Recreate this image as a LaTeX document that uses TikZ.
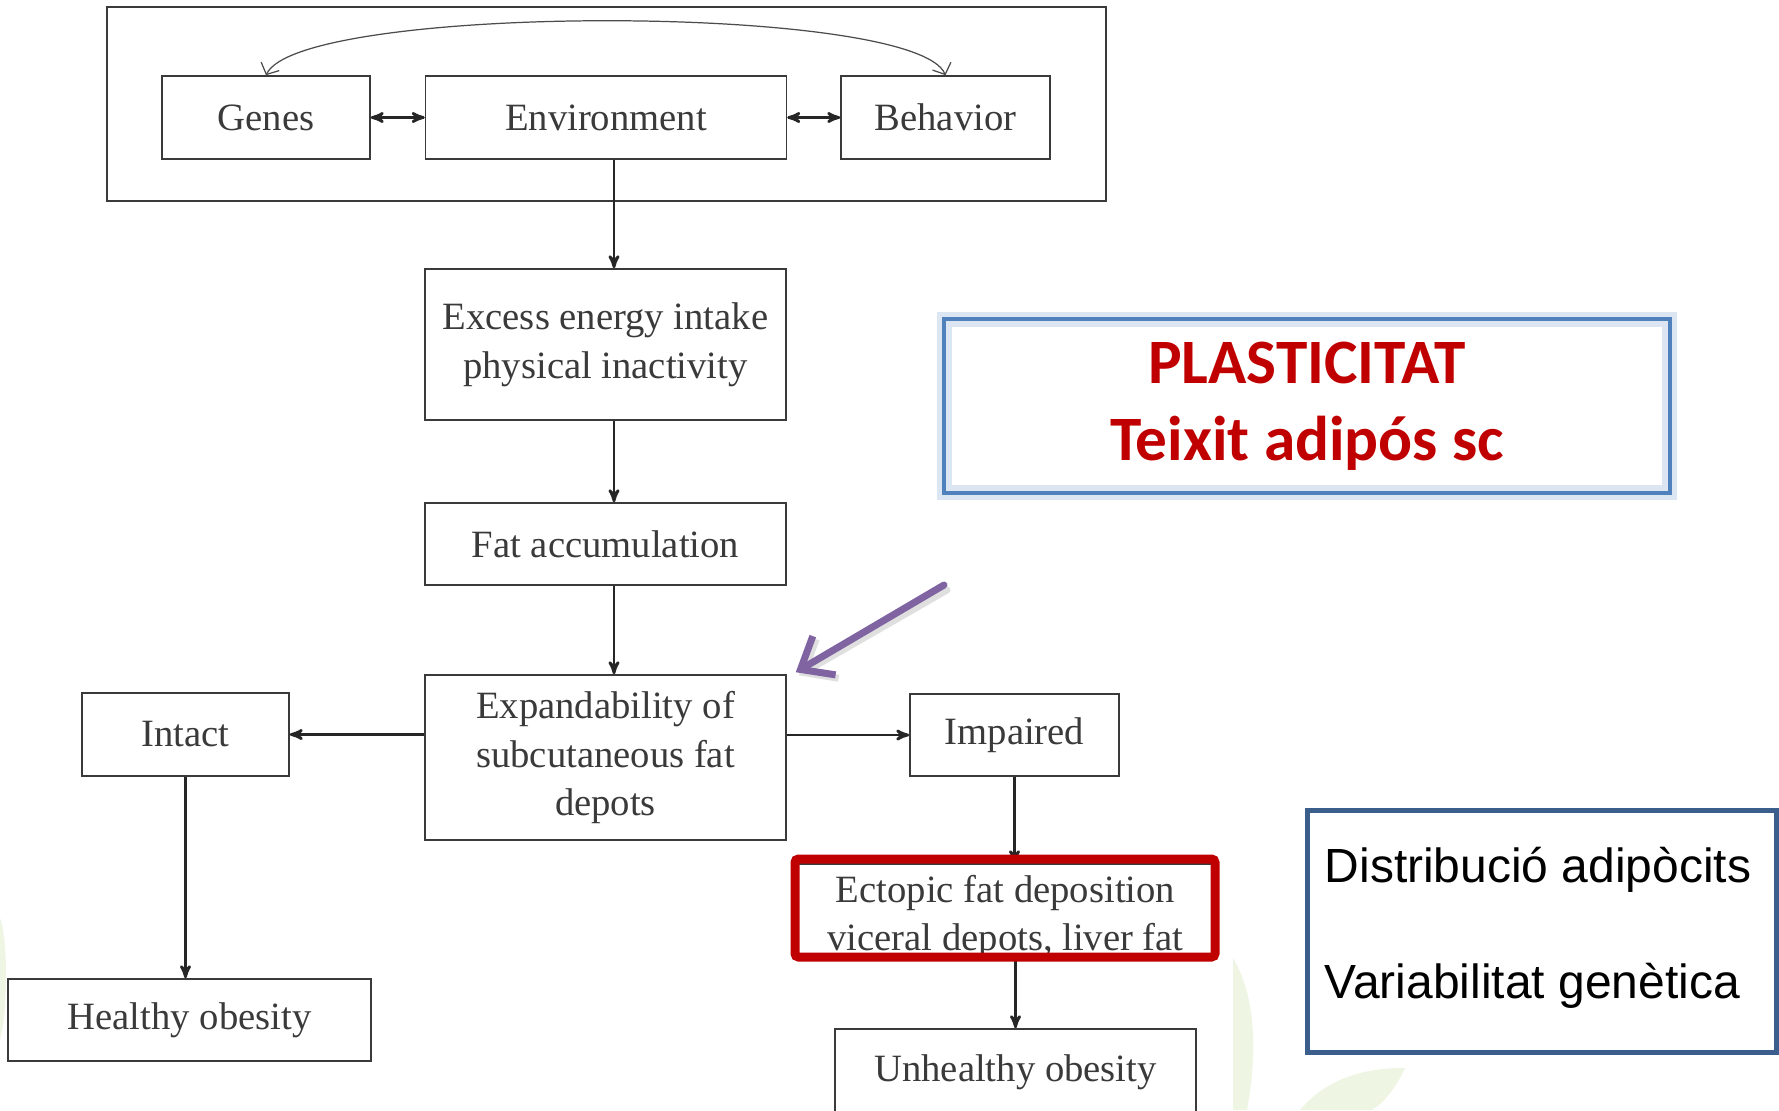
\documentclass[tikz,border=0pt]{standalone}
\usepackage{fontspec}
\setmainfont{Liberation Serif}
\newfontfamily\calibri{Carlito}
\newfontfamily\arial{Liberation Sans}
\usetikzlibrary{arrows,arrows.meta}

\definecolor{boxgray}{HTML}{3A3A3A}
\definecolor{darkred}{HTML}{C00000}
\definecolor{plasblue}{HTML}{4F81BD}
\definecolor{distblue}{HTML}{3B5E8C}
\definecolor{arrowpurple}{HTML}{8064A2}
\definecolor{leafgreen}{HTML}{EEF5E2}

\begin{document}
\begin{tikzpicture}[x=0.02cm,y=-0.02cm,
  box/.style={draw=boxgray, line width=0.9pt, text=boxgray, align=center, inner sep=0pt,
    font=\fontsize{22}{27.8}\selectfont},
  link/.style={black!85, line width=1.5pt, ->, >=stealth'},
  twoway/.style={black!85, line width=1.5pt, <->, >=stealth'},
  hlframe/.style={draw=darkred, line width=0.18cm, rounded corners=2pt},
  pointer/.style={line width=0.14cm, line cap=round, line join=round,
    -{Straight Barb[length=0.55cm, width=0.9cm]}}]
\useasboundingbox (0,0) rectangle (1779,1110);
\clip (0,0) rectangle (1779,1110);
\fill[white] (0,0) rectangle (1779,1110);
\fill[leafgreen] (1233,958) .. controls (1258,1000) and (1256,1060) .. (1247,1110) -- (1233,1110) -- cycle;
\fill[leafgreen] (1300,1110) .. controls (1330,1075) and (1370,1068) .. (1405,1068)
  .. controls (1395,1090) and (1382,1104) .. (1372,1110) -- cycle;
\fill[leafgreen] (0,918) .. controls (8,940) and (8,1010) .. (0,1040) -- cycle;

\draw[boxgray, line width=0.9pt] (107,7) rectangle (1106,201);
\node[box, minimum width=4.16cm, minimum height=1.66cm] (Genes) at (266,117.5) {Genes};
\node[box, minimum width=7.22cm, minimum height=1.66cm] (Environment) at (606,117.5) {Environment};
\node[box, minimum width=4.18cm, minimum height=1.66cm] (Behavior) at (945.5,117.5) {Behavior};
\node[box, minimum width=7.22cm, minimum height=3.02cm] (Excess) at (605.5,344.5) {Excess energy intake\\physical inactivity};
\node[box, minimum width=7.22cm, minimum height=1.64cm] (Fat) at (605.5,544) {Fat accumulation};
\node[box, minimum width=7.22cm, minimum height=3.3cm] (Expand) at (605.5,757.5) {Expandability of\\subcutaneous fat\\depots};
\node[box, minimum width=4.14cm, minimum height=1.66cm] (Intact) at (185.5,734.5) {Intact};
\node[box, minimum width=4.18cm, minimum height=1.64cm] (Impaired) at (1014.5,735) {Impaired};
\node[box, minimum width=7.26cm, minimum height=1.64cm] (Healthy) at (189.5,1020) {Healthy obesity};
\node[box, minimum width=8.3cm, minimum height=1.82cm] (Ectopic) at (1005.5,909.5) {};
\node[box, draw=none] (EctopicText) at (1005.5,917) {Ectopic fat deposition\\viceral depots, liver fat};
\node[box, minimum width=7.22cm, minimum height=1.74cm] (Unhealthy) at (1015.5,1072.5) {Unhealthy obesity};

\coordinate (col) at (614,0);
\draw[gray!60!black, line width=0.7pt, <->, >={Straight Barb[length=0.18cm, width=0.4cm]}]
  (Genes.north) .. controls (300,3) and (915,3) .. (Behavior.north);
\draw[twoway] (Genes.east) -- (Environment.west);
\draw[twoway] (Environment.east) -- (Behavior.west);
\draw[link] (Environment.south -| col) -- (Excess.north -| col);
\draw[link] (Excess.south -| col) -- (Fat.north -| col);
\draw[link] (Fat.south -| col) -- (Expand.north -| col);
\draw[link] (Expand.west |- Intact) -- (Intact.east);
\draw[link] (Expand.east |- Impaired) -- (Impaired.west);
\draw[link] (Intact.south) -- (Intact.south |- Healthy.north);
\draw[link] (Impaired.south) -- (Impaired.south |- Ectopic.north);
\draw[link] ([yshift=-0.04cm]Ectopic.south -| Unhealthy) -- (Unhealthy.north);
\draw[hlframe] (795,859) rectangle (1215,957);

\coordinate (ptail) at (944,585);
\draw[pointer, gray!25] ([shift={(3,5)}]ptail) -- ([xshift=0.24cm, yshift=-0.02cm]Expand.north east);
\draw[pointer, arrowpurple] (ptail) -- ([xshift=0.18cm, yshift=0.04cm]Expand.north east);

\node[draw=plasblue, line width=2pt, preaction={draw=plasblue!20, line width=0.3cm},
  minimum width=14.52cm, minimum height=3.48cm, align=center, text=darkred,
  font=\calibri\bfseries\fontsize{36}{43.8}\selectfont] (plas) at (1307,406)
  {PLASTICITAT\\Teixit adipós sc};
\node[draw=distblue, line width=0.1cm, minimum width=9.4cm, minimum height=4.86cm,
  align=left, font=\arial\fontsize{27.3}{65.9}\selectfont] (dist) at (1542,931.5)
  {};
\node[align=left, inner sep=0pt, font=\arial\fontsize{27.3}{65.9}\selectfont] (distText)
  at (1538,927.7) {Distribució adipòcits\\Variabilitat genètica};
\end{tikzpicture}
\end{document}
